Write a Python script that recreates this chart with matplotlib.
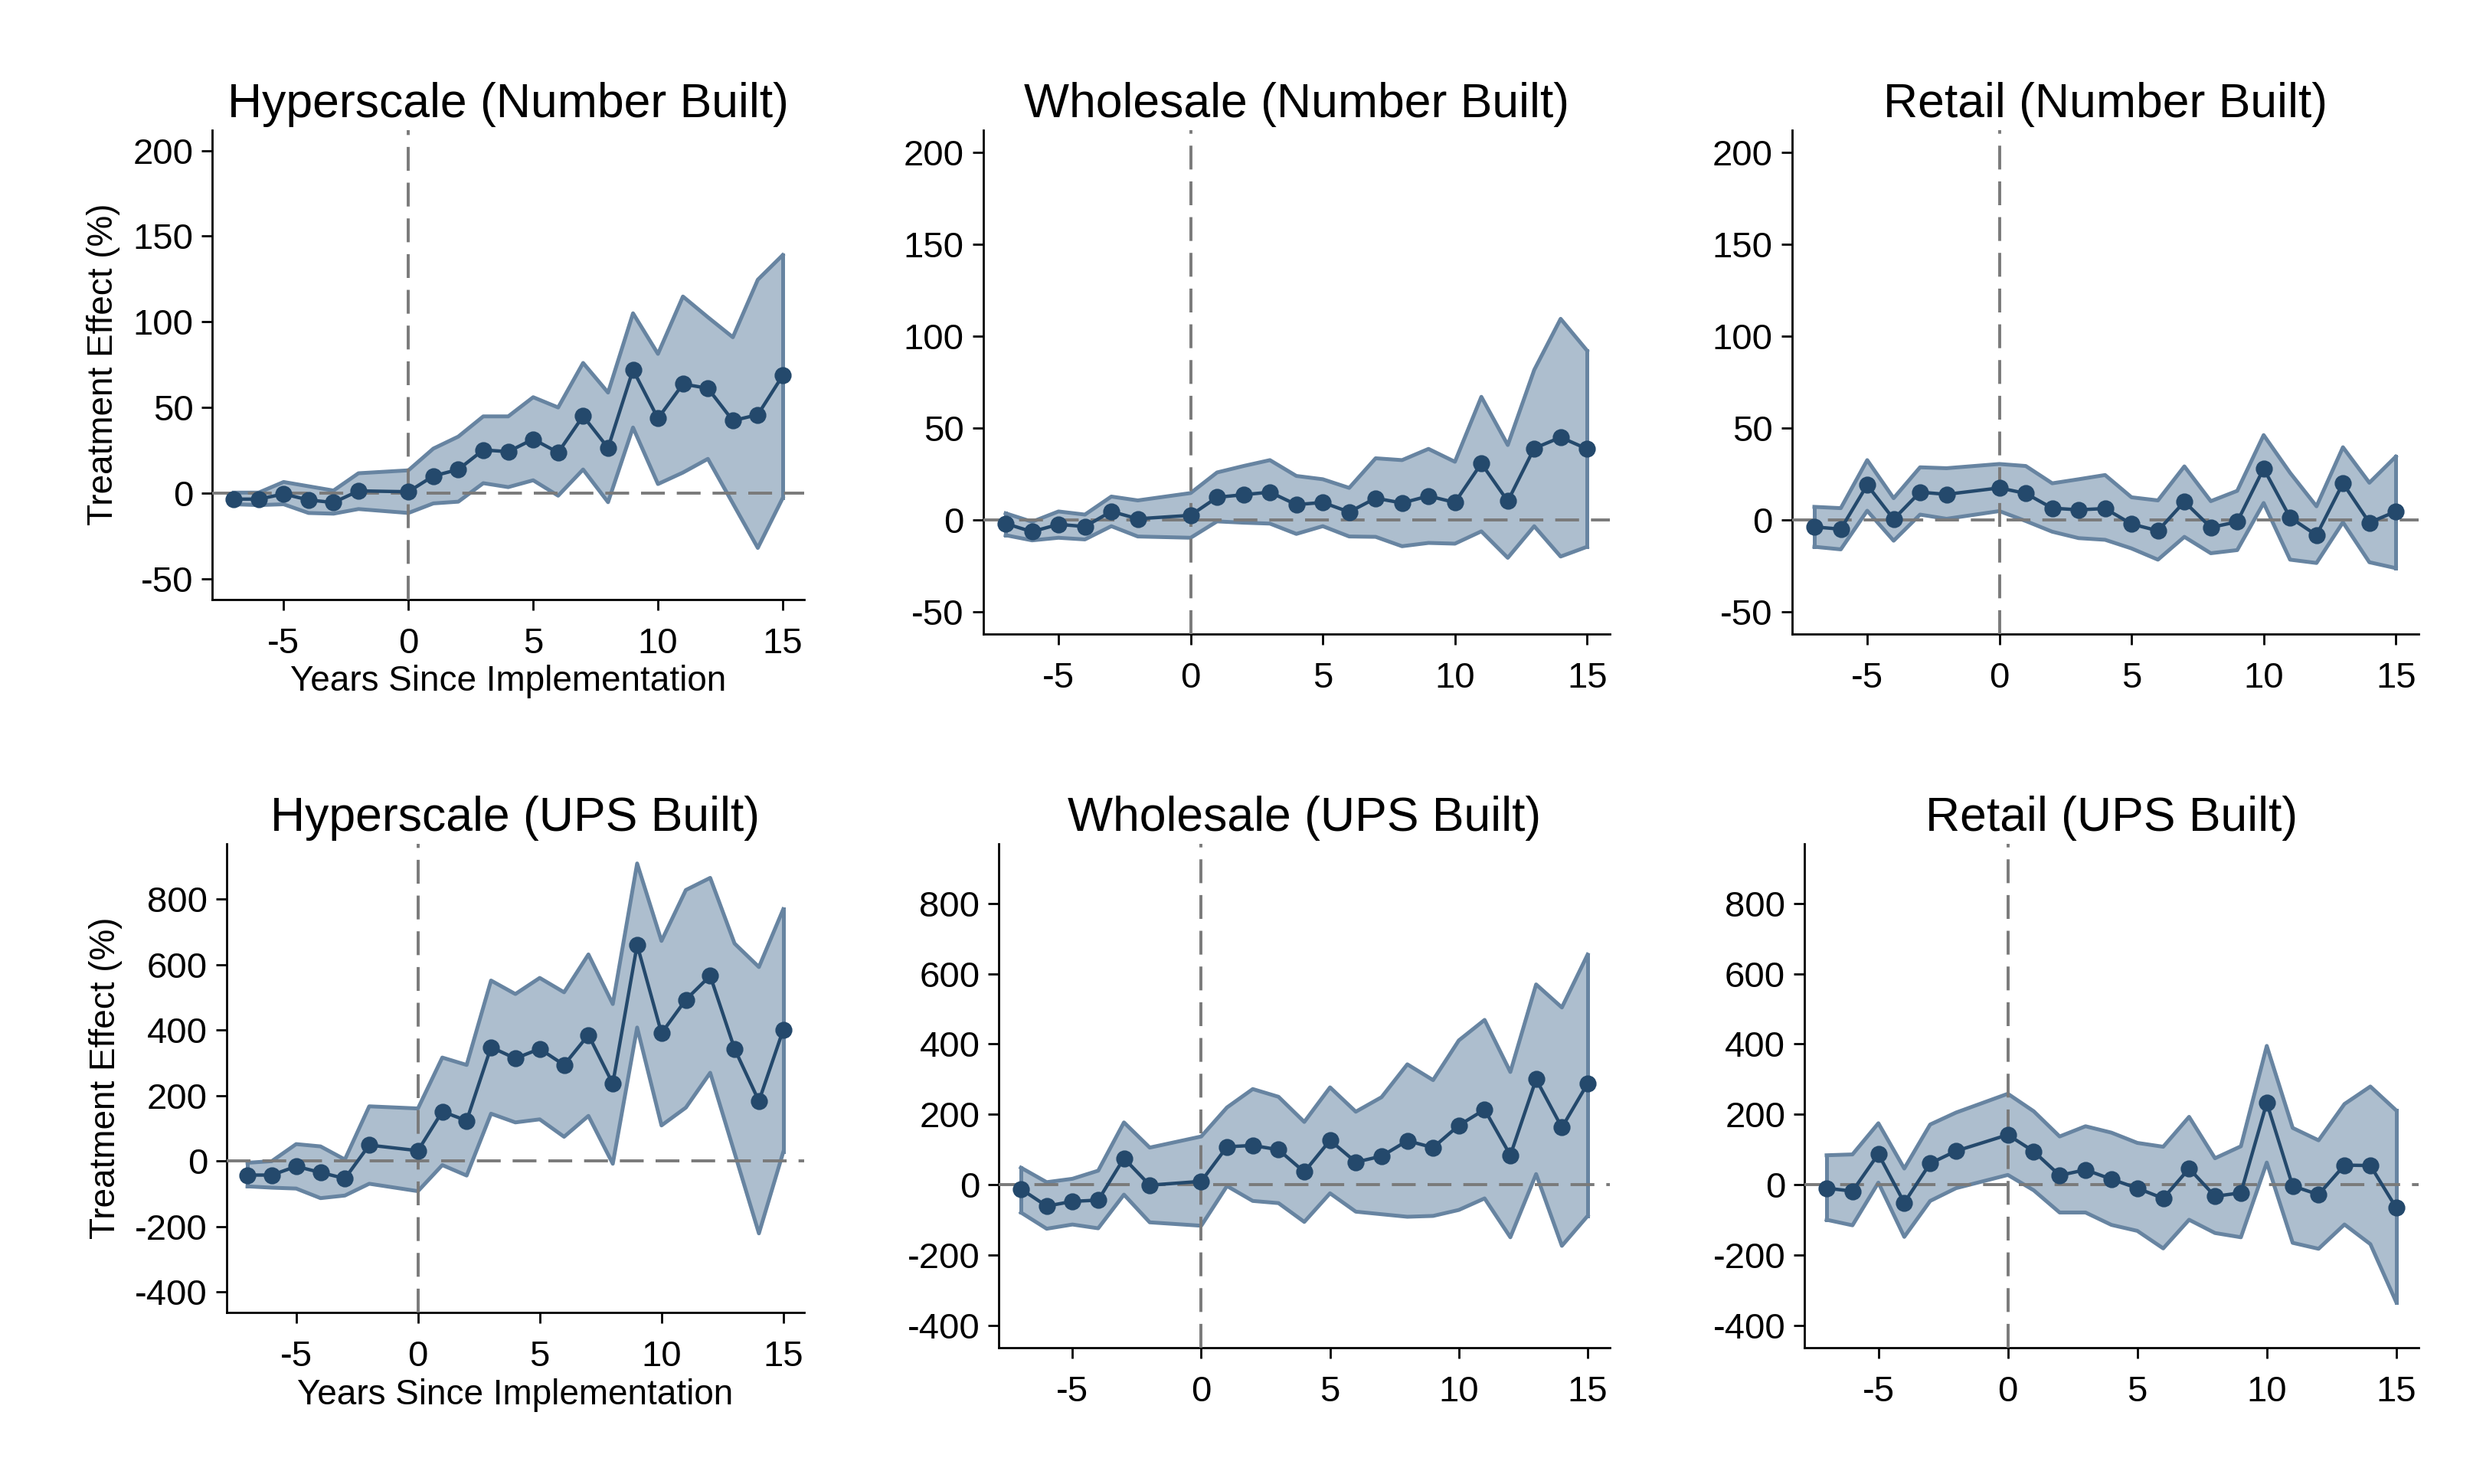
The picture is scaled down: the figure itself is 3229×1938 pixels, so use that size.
import matplotlib
matplotlib.use("Agg")
import matplotlib.pyplot as plt

plt.rcParams['font.family'] = ['Liberation Sans', 'DejaVu Sans']
plt.rcParams['axes.unicode_minus'] = False

# event time (t = -1 is the omitted reference year)
years = [-7, -6, -5, -4, -3, -2, 0, 1, 2, 3, 4, 5, 6, 7, 8, 9, 10, 11, 12, 13, 14, 15]

# Hyperscale (Number Built)
hyp_num = [-3.5, -3.5, -0.5, -4, -5.5, 1.3, 0.8, 10, 13.8, 25.2, 24.2, 31.5, 23.7, 45, 26.4, 72, 43.6, 63.7, 61.2, 42.3, 45.8, 68.7]
hyp_num_hi = [0.3, 0.3, 6.5, 4, 1.5, 11.6, 13.3, 26, 33, 44.8, 44.8, 56, 50, 76, 58.7, 105, 81.3, 114.8, 102.7, 91, 124.6, 139]
hyp_num_lo = [-6.5, -7, -6.5, -11.6, -12, -9.3, -11.6, -6, -5, 5.8, 3.5, 7.5, -1.5, 13.8, -5.3, 38.3, 5.3, 12, 20, -6, -32, -2.8]

# Wholesale (Number Built)
whl_num = [-1.9, -6.3, -2.3, -3.5, 4.7, 0.7, 2.6, 12.4, 13.8, 15.2, 8.4, 9.6, 4.4, 11.9, 9.3, 13.1, 9.6, 30.8, 10.3, 39, 45, 38.7]
whl_num_hi = [3.7, -0.9, 4.7, 3, 12.8, 10.7, 14.7, 25.9, 29.4, 32.6, 24, 22.2, 17.5, 33.6, 32.6, 38.7, 31.7, 67, 40.8, 81.6, 109.4, 92.1]
whl_num_lo = [-8.2, -11, -9.6, -10.5, -3.3, -8.9, -9.6, -0.7, -1.4, -1.9, -7.5, -3.3, -8.9, -9.1, -14.2, -12.4, -12.8, -6.1, -20.5, -3.3, -19.8, -14.5]

# Retail (Number Built)
ret_num = [-3.7, -4.9, 19.1, 0.5, 15.2, 14, 17.5, 14.5, 6.5, 5.6, 6.3, -2.1, -5.8, 10, -4, -0.9, 28, 1.4, -8.2, 20, -1.4, 4.7]
ret_num_hi = [7.2, 6.5, 32.6, 11.9, 28.7, 28.2, 30.5, 29.4, 20, 22.2, 24.5, 12.4, 10.7, 29.2, 10.3, 15.9, 46.2, 25.7, 7.5, 39.6, 20.3, 34.5]
ret_num_lo = [-14.5, -15.9, 5.1, -11.2, 3, 0.7, 4.9, -0.5, -6.3, -9.8, -10.7, -15.4, -21.5, -9.1, -18, -16.3, 9.3, -21.5, -23.3, -1.2, -22.9, -26.1]

# Hyperscale (UPS Built)
hyp_ups = [-42.5, -42.5, -16, -34.6, -53, 49, 32, 151.5, 123.6, 348, 313.6, 343, 293.7, 385.4, 236.5, 660.5, 390.7, 493, 566, 343, 183.4, 401.3]
hyp_ups_hi = [-5, 0, 52, 45, 5, 167.4, 160.8, 316.3, 293.7, 551.5, 510.3, 559.5, 515.6, 631.2, 479.7, 909, 672.4, 827.9, 865, 664.5, 592.7, 769.4]
hyp_ups_lo = [-77, -81, -83.7, -113, -105, -69, -91.7, -12, -44, 144.9, 118.3, 127.6, 74.4, 138.2, -8, 408, 109, 163.5, 269.8, 25, -220.6, 28]

# Wholesale (UPS Built)
whl_ups = [-12, -60.7, -47.3, -43.7, 75.3, -1.2, 9.7, 108, 111.7, 99.5, 36.4, 126.3, 64.3, 81.3, 125, 105.6, 168.7, 213.7, 83.8, 299.9, 162.7, 287.7]
whl_ups_hi = [48.6, 7.3, 17, 40, 177.2, 105.6, 137.2, 219.7, 272, 250, 178.5, 276.8, 207.6, 248.9, 342.3, 297.4, 410.3, 468.6, 320.5, 569.4, 503.8, 654.4]
whl_ups_lo = [-78.9, -125, -113, -123.8, -28, -106.8, -116.5, -3.6, -46, -52.2, -105.6, -24.3, -76.5, -83.8, -91, -88.6, -71.6, -38.8, -149.3, 30.4, -173.6, -88.6]

# Retail (UPS Built)
ret_ups = [-9.7, -18.2, 87.4, -51, 60.7, 95.9, 142, 94.7, 26.7, 42.5, 15.8, -9.7, -38.8, 46.1, -32.8, -23, 233.1, -3.6, -27.9, 55.8, 54.6, -65.6]
ret_ups_hi = [83.8, 86.2, 174.8, 46.1, 171.2, 205.2, 258.6, 208.8, 137.2, 166.3, 148.1, 119, 108, 193, 75.3, 109.3, 394.6, 161.5, 126.3, 229.5, 279.2, 211.2]
ret_ups_lo = [-99.5, -115.3, 6, -148.1, -46, -9.7, 27.9, -15.8, -78.9, -78.9, -114.1, -131.1, -180.9, -99.5, -137.2, -149.3, 63.1, -165.1, -182, -112.9, -168.7, -333.8]

titles = ["Hyperscale (Number Built)", "Wholesale (Number Built)", "Retail (Number Built)",
          "Hyperscale (UPS Built)", "Wholesale (UPS Built)", "Retail (UPS Built)"]
series = [(hyp_num, hyp_num_lo, hyp_num_hi), (whl_num, whl_num_lo, whl_num_hi), (ret_num, ret_num_lo, ret_num_hi),
          (hyp_ups, hyp_ups_lo, hyp_ups_hi), (whl_ups, whl_ups_lo, whl_ups_hi), (ret_ups, ret_ups_lo, ret_ups_hi)]

# axes boxes (left, right, bottom, top) in 1560x936 reference pixels
W, H = 1560.0, 936.0
boxes = [(134, 507, 378, 82), (620, 1015, 400, 82), (1130, 1525, 400, 82),
         (143, 507, 828, 532), (630, 1015, 850, 532), (1138, 1525, 850, 532)]

line_col = '#24496c'
fill_col = '#9fb3c6'
edge_col = '#6784a1'
ref_col = '#7a7a7a'

fig = plt.figure(figsize=(16.15, 9.69), dpi=200)

for i in range(6):
    l, r, b, t = boxes[i]
    ax = fig.add_axes([l / W, 1 - b / H, (r - l) / W, (b - t) / H])
    est, lo, hi = series[i]

    ax.fill_between(years, lo, hi, facecolor=fill_col, alpha=0.85, edgecolor='none', zorder=1)
    ax.plot(years, hi, color=edge_col, lw=1.8, zorder=2)
    ax.plot(years, lo, color=edge_col, lw=1.8, zorder=2)
    ax.plot([years[-1], years[-1]], [lo[-1], hi[-1]], color=edge_col, lw=1.8, zorder=2)
    ax.plot([years[0], years[0]], [lo[0], hi[0]], color=edge_col, lw=1.8, zorder=2)
    ax.axhline(0, color=ref_col, lw=1.4, ls=(0, (8, 4)), zorder=3)
    ax.axvline(0, color=ref_col, lw=1.4, ls=(0, (8, 4)), zorder=3)
    ax.plot(years, est, color=line_col, lw=1.6, marker='o', ms=7, zorder=4)

    ax.set_xlim(-7.85, 15.85)
    ax.set_xticks([-5, 0, 5, 10, 15])
    if i < 3:
        ax.set_ylim(-62, 212)
        ax.set_yticks([-50, 0, 50, 100, 150, 200])
    else:
        ax.set_ylim(-463, 970)
        ax.set_yticks([-400, -200, 0, 200, 400, 600, 800])

    ax.spines['top'].set_visible(False)
    ax.spines['right'].set_visible(False)
    ax.spines['left'].set_linewidth(1.0)
    ax.spines['bottom'].set_linewidth(1.0)
    ax.tick_params(labelsize=17, length=5, width=1.0, direction='out')
    ax.tick_params(axis='x', pad=8)
    ax.tick_params(axis='y', pad=4)
    ax.set_title(titles[i], fontsize=22.5, pad=6)

    if i % 3 == 0:
        ax.set_ylabel('Treatment Effect (%)', fontsize=16.5, labelpad=6)
        ax.set_xlabel('Years Since Implementation', fontsize=16.5, labelpad=2)

fig.savefig('out.png', dpi=200, facecolor='white')
